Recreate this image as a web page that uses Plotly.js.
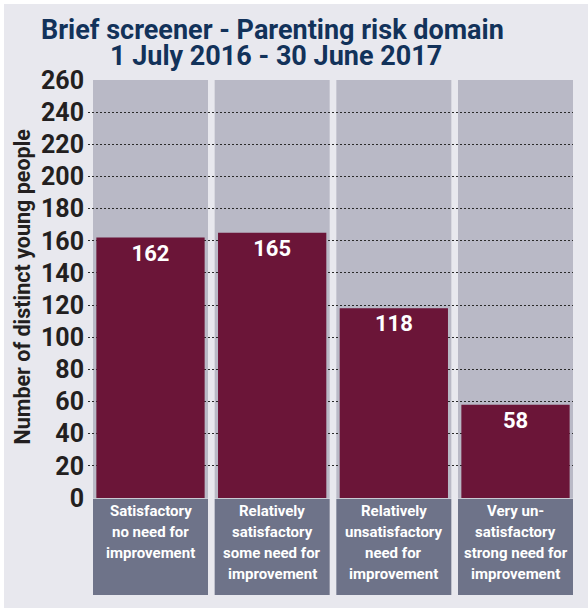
<!DOCTYPE html>
<html>
<head>
<meta charset="utf-8">
<script src="https://cdn.plot.ly/plotly-3.0.1.min.js"></script>
<style>
  html, body { margin: 0; padding: 0; background: #ffffff; }
  #chart { position: absolute; left: 4px; top: 4px; width: 584px; height: 604px; }
</style>
</head>
<body>
<div id="chart"></div>
<script>
const titleLines = ["Brief screener - Parenting risk domain", "1 July 2016 - 30 June 2017"];
const yAxisTitle = "Number of distinct young people";
const categoryLines = [
  ["Satisfactory", "no need for", "improvement"],
  ["Relatively", "satisfactory", "some need for", "improvement"],
  ["Relatively", "unsatisfactory", "need for", "improvement"],
  ["Very un-", "satisfactory", "strong need for", "improvement"]
];
const values = [162, 165, 118, 58];
const yTicks = [0, 20, 40, 60, 80, 100, 120, 140, 160, 180, 200, 220, 240, 260];

const FONT = "Roboto, 'Open Sans', sans-serif";
const xs = categoryLines.map((c, i) => i);
const half = 0.4726;
const PLOT_H = 418;

const shapes = [];
xs.forEach(i => {
  shapes.push({type: 'rect', layer: 'below', xref: 'x', yref: 'y',
    x0: i - half, x1: i + half, y0: 0, y1: 260,
    fillcolor: '#b9b9c6', line: {width: 0}});
  shapes.push({type: 'rect', layer: 'above', xref: 'x', yref: 'paper',
    x0: i - half, x1: i + half, y0: -0.232, y1: -0.002,
    fillcolor: '#6e7389', line: {width: 0}});
});

const annotations = [];
categoryLines.forEach((lines, i) => {
  lines.forEach((ln, k) => {
    annotations.push({x: i, y: -(13 + 21 * k) / PLOT_H, xref: 'x', yref: 'paper', text: '<b>' + ln + '</b>',
      showarrow: false, xanchor: 'center', yanchor: 'middle', align: 'center',
      font: {family: FONT, size: 15, color: '#ffffff'}});
  });
});
annotations.push({x: 0.381, y: 1 + 50 / PLOT_H, xref: 'paper', yref: 'paper', xanchor: 'center', yanchor: 'middle',
  text: '<b>' + titleLines[0] + '</b>', showarrow: false, font: {family: FONT, size: 27, color: '#12325a'}});
annotations.push({x: 0.387, y: 1 + 24 / PLOT_H, xref: 'paper', yref: 'paper', xanchor: 'center', yanchor: 'middle',
  text: '<b>' + titleLines[1] + '</b>', showarrow: false, font: {family: FONT, size: 27, color: '#12325a'}});
annotations.push({x: -0.135, y: 0.505, xref: 'paper', yref: 'paper', xanchor: 'center', yanchor: 'middle',
  textangle: -90, text: '<b>' + yAxisTitle + '</b>', showarrow: false,
  font: {family: FONT, size: 21.5, color: '#231f20'}});

const trace = {
  type: 'bar', x: xs, y: values, width: 0.89,
  marker: {color: '#6b1538', line: {width: 0}},
  text: values.map(v => '<b>' + v + '</b>'),
  textposition: 'inside', insidetextanchor: 'end',
  textfont: {family: FONT, size: 22, color: '#ffffff'},
  constraintext: 'none', cliponaxis: false, hoverinfo: 'none'
};

const layout = {
  width: 584, height: 604,
  margin: {l: 84, r: 15, t: 76, b: 110},
  paper_bgcolor: '#e8e8ee', plot_bgcolor: '#e8e8ee',
  showlegend: false,
  xaxis: {range: [-0.5137, 3.4726], showgrid: false, zeroline: false, showline: false,
    showticklabels: false, ticks: '', fixedrange: true},
  yaxis: {range: [0, 260], tickvals: yTicks, ticktext: yTicks.map(v => '<b>' + v + '</b>'),
    showgrid: true, gridcolor: '#2a2a2a', gridwidth: 1, griddash: '2px,2px',
    zeroline: false, showline: false, ticks: '', ticklabelstandoff: 3,
    tickfont: {family: FONT, size: 25, color: '#231f20'}, fixedrange: true},
  shapes: shapes,
  annotations: annotations
};

Plotly.newPlot('chart', [trace], layout, {displayModeBar: false, staticPlot: true});
</script>
</body>
</html>
